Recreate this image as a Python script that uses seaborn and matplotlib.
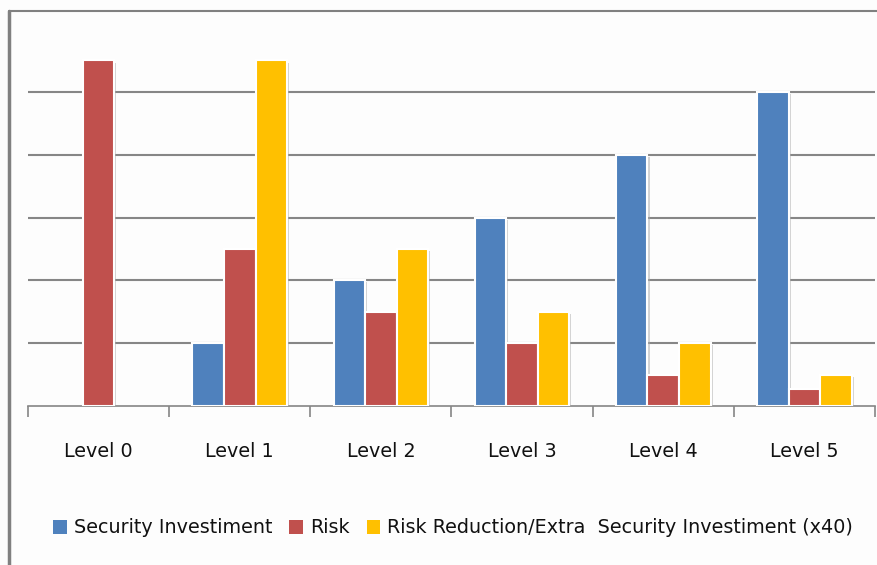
import numpy as np
import pandas as pd
import matplotlib
matplotlib.use("Agg")
import matplotlib.pyplot as plt
import matplotlib.patheffects as pe
from matplotlib.lines import Line2D
import seaborn as sns

levels = ["Level 0", "Level 1", "Level 2", "Level 3", "Level 4", "Level 5"]
security_investment = [np.nan, 1.0, 2.0, 3.0, 4.0, 5.0]
risk = [5.5, 2.5, 1.5, 1.0, 0.5, 0.27]
risk_reduction_x40 = [np.nan, 5.5, 2.5, 1.5, 1.0, 0.5]
series_names = ["Security Investiment", "Risk",
                "Risk Reduction/Extra  Security Investiment (x40)"]
colors = ["#4F81BD", "#C0504D", "#FFC000"]

rows = []
for i, lv in enumerate(levels):
    for name, vals in zip(series_names, [security_investment, risk, risk_reduction_x40]):
        rows.append({"Level": lv, "Series": name, "Value": vals[i]})
df = pd.DataFrame(rows)

sns.set_theme(style="white")
plt.rcParams["font.family"] = ["DejaVu Sans"]

fig = plt.figure(figsize=(8.78, 5.65), dpi=100)
fig.patch.set_facecolor("#FDFDFD")
ax = fig.add_axes([28 / 878, 1 - 406 / 565, (875 - 28) / 878, (406 - 29) / 565])
ax.set_facecolor("#FDFDFD")

sns.barplot(data=df, x="Level", y="Value", hue="Series", order=levels,
            hue_order=series_names, palette=colors, width=0.67, ax=ax,
            saturation=1, edgecolor="white", linewidth=1.5, legend=False, zorder=3)

for p in ax.patches:
    p.set_path_effects([pe.SimplePatchShadow(offset=(1.5, -1.5), shadow_rgbFace="#AAAAAA", alpha=0.5),
                        pe.Normal()])

ax.set_ylim(0, 6)
ax.set_xlim(-0.5, 5.5)
for y in [1, 2, 3, 4, 5]:
    ax.axhline(y, color="#868686", linewidth=1.5, zorder=1)

ax.set_yticks([])
ax.set_xticks(range(len(levels)))
ax.set_xticklabels(levels, fontsize=13.8, color="#111111")
ax.tick_params(axis="x", which="major", length=0, pad=26)
ax.set_xticks(np.arange(-0.5, 6.0, 1.0), minor=True)
ax.tick_params(axis="x", which="minor", length=8, width=1.2, color="#868686", direction="out", bottom=True)
ax.set_xlabel("")
ax.set_ylabel("")

for s in ["top", "right", "left"]:
    ax.spines[s].set_visible(False)
ax.spines["bottom"].set_color("#868686")
ax.spines["bottom"].set_linewidth(1.2)

# chart frame (top and left)
fig.add_artist(Line2D([9 / 878, 1.0], [1 - 11 / 565, 1 - 11 / 565], color="#808080", linewidth=1.5,
                      transform=fig.transFigure))
fig.add_artist(Line2D([9 / 878, 9 / 878], [0, 1 - 11 / 565], color="#808080", linewidth=2.5,
                      transform=fig.transFigure))

handles = [plt.Rectangle((0, 0), 1, 1, facecolor=c, edgecolor="none") for c in colors]
fig.legend(handles, series_names, loc="center", bbox_to_anchor=(0.516, 0.0655), ncol=3,
           frameon=False, fontsize=13.8, handlelength=0.72, handleheight=0.72,
           handletextpad=0.35, columnspacing=0.9, labelcolor="#111111")

fig.savefig("out.png", dpi=100, facecolor=fig.get_facecolor())
